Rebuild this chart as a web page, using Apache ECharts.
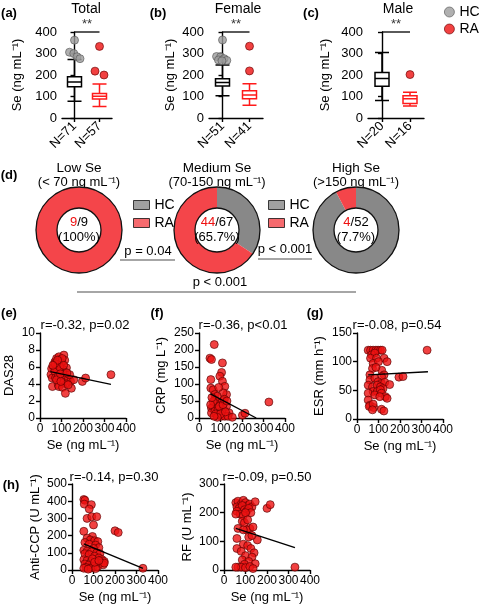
<!DOCTYPE html>
<html>
<head>
<meta charset="utf-8">
<script src="https://cdn.jsdelivr.net/npm/echarts@6/dist/echarts.min.js"></script>
<style>
  html, body { margin: 0; padding: 0; background: #fff; }
  #chart { width: 480px; height: 608px; }
</style>
</head>
<body>
<div id="chart"></div>
<script>
const FONT = 'Liberation Sans, Arial, sans-serif';
const RED = '#ee1111';
const PIE_RED = '#f4454a';
const GRAY = '#888888';

// (a)-(c) box plots: [min, Q1, median, Q3, max]
const totalCats = ['N=71', 'N=57'];
const femaleCats = ['N=51', 'N=41'];
const maleCats = ['N=20', 'N=16'];
const totalHC = [78, 145, 167, 192, 272];
const totalRA = [54, 88, 101, 114, 158];
const femaleHC = [103, 149, 165, 182, 246];
const femaleRA = [59, 89, 107, 127, 159];
const maleHC = [81, 148, 184, 212, 305];
const maleRA = [56, 67, 89, 104, 120];
// outliers: [position within category (0 = HC, 1 = RA), value]
const totalHCOut = [[0, 362], [-0.2, 306], [-0.03, 300], [0.1, 285], [0.22, 276]];
const totalRAOut = [[1, 333], [0.82, 218], [1.18, 200]];
const femaleHCOut = [[0, 363], [-0.22, 286], [-0.07, 285], [0.06, 276], [0.16, 268], [-0.15, 270], [-0.02, 266]];
const femaleRAOut = [[1, 334], [1, 219]];
const maleHCOut = [];
const maleRAOut = [[1, 202]];

// (d) donuts: [HC, RA]
const donutNames = ['Low Se', 'Medium Se', 'High Se'];
const donutRanges = ['(< 70 ng mL⁻¹)', '(70-150 ng mL⁻¹)', '(>150 ng mL⁻¹)'];
const lowCounts = [0, 9];
const mediumCounts = [23, 44];
const highCounts = [48, 4];
const donutPct = ['100%', '65.7%', '7.7%'];

// (e)-(h) correlations: [Se, value]
const dasPts = [[62,6.0],[54,5.8],[51,5.1],[57,4.7],[58,3.7],[69,6.6],[77,7.0],[88,7.2],[92,6.8],[111,7.4],[115,6.8],[100,6.5],[85,6.3],[77,5.8],[123,5.9],[108,5.7],[92,5.5],[69,5.5],[72,4.7],[85,4.9],[100,4.7],[115,5.1],[123,4.7],[131,4.5],[142,4.3],[157,4.5],[85,3.9],[108,4.1],[123,4.0],[146,3.5],[88,3.7],[105,3.6],[118,2.9],[197,4.3],[212,4.7],[330,5.1],[77,4.5],[97,4.3],[131,3.9],[138,5.1],[92,6.0],[69,6.4],[103,7.0],[82,6.8],[60,6.2],[110,6.2],[95,5.2],[125,5.3]];
const crpPts = [[71,216],[51,176],[58,172],[109,162],[105,134],[97,123],[55,113],[55,88],[66,83],[74,69],[109,108],[120,93],[128,69],[112,74],[109,49],[97,44],[82,39],[66,34],[58,29],[58,15],[74,20],[89,25],[105,20],[115,25],[128,34],[140,15],[89,10],[105,5],[120,5],[135,5],[155,2],[202,8],[214,14],[325,47],[74,54],[85,64],[94,34],[112,39],[66,49],[78,12],[100,12],[123,18],[54,39],[85,2],[60,60],[92,90],[118,55],[70,5],[130,50]];
const esrPts = [[52,120],[63,120],[75,120],[88,120],[98,120],[109,120],[117,120],[326,120],[68,112],[83,115],[63,106],[91,106],[126,106],[140,100],[75,97],[72,88],[115,85],[126,77],[114,74],[60,77],[195,73],[214,74],[60,68],[83,71],[98,65],[114,62],[129,64],[152,60],[52,59],[72,56],[94,59],[109,56],[121,53],[75,48],[94,48],[109,51],[52,45],[83,42],[114,45],[132,39],[140,36],[52,33],[106,39],[60,24],[57,22],[78,20],[114,17],[125,14],[75,26],[72,16],[100,100],[88,90]];
const ccpPts = [[55,410],[60,405],[57,383],[90,380],[80,355],[70,300],[92,310],[115,310],[100,262],[55,225],[200,228],[215,218],[95,195],[70,185],[85,175],[105,170],[120,165],[60,160],[80,150],[110,145],[125,130],[100,125],[55,115],[70,110],[90,105],[115,100],[130,95],[60,95],[80,90],[105,80],[125,70],[140,60],[150,50],[55,60],[70,55],[90,50],[115,45],[135,40],[60,35],[80,30],[100,25],[120,20],[145,30],[65,15],[85,10],[110,8],[55,10],[75,5],[330,10],[95,65],[105,45],[150,40],[125,55]];
const rfPts = [[55,235],[65,240],[80,230],[90,243],[100,235],[110,225],[120,230],[130,220],[145,238],[60,220],[70,215],[85,225],[95,210],[105,205],[115,215],[125,200],[60,205],[75,195],[90,190],[100,200],[55,195],[200,215],[215,228],[85,170],[95,165],[120,145],[65,145],[105,140],[135,150],[155,105],[115,115],[60,110],[90,90],[110,85],[60,75],[125,75],[80,65],[140,60],[100,50],[130,45],[85,35],[115,30],[145,22],[95,20],[65,10],[80,10],[100,8],[120,12],[55,10],[135,5],[330,10],[90,140],[110,175],[130,120]];
// regression lines: [start, end]
const dasFit = [[48, 5.45], [330, 3.95]];
const crpFit = [[53, 71], [266, 0]];
const esrFit = [[52, 77], [330, 82.5]];
const ccpFit = [[55, 152], [330, 10]];
const rfFit = [[55, 145], [330, 78]];
const corrTitles = ['r=-0.32, p=0.02', 'r=-0.36, p<0.01', 'r=-0.08, p=0.54', 'r=-0.14, p=0.30', 'r=-0.09, p=0.50'];

function axisStyle(fontSize) {
  return {
    axisLine: { show: true, lineStyle: { color: '#000', width: 1.4 } },
    axisTick: { show: true, length: 4, lineStyle: { color: '#000', width: 1.4 } },
    axisLabel: { color: '#000', fontSize: fontSize, fontFamily: FONT, margin: 5 },
    splitLine: { show: false },
    nameTextStyle: { color: '#000', fontSize: 13, fontFamily: FONT }
  };
}

function txt(x, y, s, size, extra) {
  return Object.assign({
    type: 'text', x: x, y: y, silent: true,
    style: {
      text: s, fontSize: size, fontFamily: FONT, fill: '#000',
      textAlign: 'center', textVerticalAlign: 'middle',
      align: 'center', verticalAlign: 'middle'
    }
  }, extra || {});
}

function hline(x1, x2, y, color) {
  return { type: 'line', silent: true, shape: { x1: x1, y1: y, x2: x2, y2: y },
    style: { stroke: color, lineWidth: 1.5 } };
}

const grid = [];
const xAxis = [];
const yAxis = [];
const series = [];

// box plot panels
const boxPanels = [
  { cats: totalCats, hc: totalHC, ra: totalRA, hcOut: totalHCOut, raOut: totalRAOut, box: { left: 62, top: 32, width: 50, height: 86 }, gap: 38 },
  { cats: femaleCats, hc: femaleHC, ra: femaleRA, hcOut: femaleHCOut, raOut: femaleRAOut, box: { left: 209, top: 32, width: 54, height: 86 }, gap: 32 },
  { cats: maleCats, hc: maleHC, ra: maleRA, hcOut: maleHCOut, raOut: maleRAOut, box: { left: 368, top: 32, width: 56, height: 86 }, gap: 36 }
];

boxPanels.forEach((p, i) => {
  grid.push(p.box);
  const st = axisStyle(13);
  xAxis.push(Object.assign({}, st, {
    type: 'category', gridIndex: i, data: p.cats,
    axisTick: { show: true, alignWithLabel: true, length: 4, lineStyle: { color: '#000', width: 1.4 } },
    axisLabel: Object.assign({}, st.axisLabel, { rotate: 45, fontSize: 13, margin: 6 })
  }));
  xAxis.push({ type: 'value', gridIndex: i, min: -0.5, max: 1.5, show: false });
  yAxis.push(Object.assign({}, st, {
    type: 'value', gridIndex: i, min: 0, max: 400, interval: 100,
    name: 'Se (ng mL⁻¹)', nameLocation: 'middle', nameGap: p.gap
  }));
  series.push({
    type: 'boxplot', xAxisIndex: 2 * i, yAxisIndex: i, boxWidth: [14, 14],
    itemStyle: { borderWidth: 1.5 },
    data: [
      { value: p.hc, itemStyle: { color: '#fff', borderColor: '#000' } },
      { value: p.ra, itemStyle: { color: '#fff', borderColor: '#ff1a1a' } }
    ]
  });
  series.push({
    name: 'HC', type: 'scatter', xAxisIndex: 2 * i + 1, yAxisIndex: i, symbolSize: 8,
    itemStyle: { color: '#9c9c9c', borderColor: '#555', borderWidth: 0.8 }, data: p.hcOut
  });
  series.push({
    name: 'RA', type: 'scatter', xAxisIndex: 2 * i + 1, yAxisIndex: i, symbolSize: 8,
    itemStyle: { color: RED, borderColor: '#600', borderWidth: 0.8 }, data: p.raOut
  });
  // significance bar
  series.push({
    type: 'line', xAxisIndex: 2 * i + 1, yAxisIndex: i, symbol: 'none', clip: false,
    lineStyle: { color: '#000', width: 1.3 }, data: [[0, 400], [1, 400]]
  });
  series.push({
    type: 'scatter', xAxisIndex: 2 * i + 1, yAxisIndex: i, symbolSize: 0, clip: false,
    label: { show: true, position: 'top', distance: 1, formatter: '**', color: '#000', fontSize: 13, fontFamily: FONT },
    data: [[0.5, 400]]
  });
});

// donuts
const donutCenters = [[79, 230], [217, 230], [356, 230]];
const donutCounts = [lowCounts, mediumCounts, highCounts];
donutCounts.forEach((c, i) => {
  series.push({
    type: 'pie', name: donutNames[i], center: donutCenters[i], radius: [22, 43],
    silent: true, label: { show: false }, labelLine: { show: false },
    data: [
      { name: 'HC', value: c[0], itemStyle: { color: GRAY } },
      { name: 'RA', value: c[1], itemStyle: { color: PIE_RED } }
    ]
  });
  series.push({
    type: 'pie', center: donutCenters[i], radius: [22, 43], silent: true, z: 3,
    itemStyle: { color: 'rgba(0,0,0,0)', borderColor: '#111', borderWidth: 1.3 },
    label: {
      show: true, position: 'center', color: '#000', fontSize: 13, fontFamily: FONT, lineHeight: 15,
      formatter: '{r|' + c[1] + '}/' + (c[0] + c[1]) + '\n(' + donutPct[i] + ')',
      rich: { r: { color: RED, fontSize: 13, fontFamily: FONT } }
    },
    labelLine: { show: false },
    data: [{ name: 'ring', value: 1 }]
  });
});

// correlation panels
const scatterPanels = [
  { pts: dasPts, fit: dasFit, max: 10, step: 2, name: 'DAS28', box: { left: 40, top: 333, width: 86, height: 85 }, gap: 24 },
  { pts: crpPts, fit: crpFit, max: 250, step: 50, name: 'CRP (mg L⁻¹)', box: { left: 199, top: 333, width: 86, height: 85 }, gap: 31 },
  { pts: esrPts, fit: esrFit, max: 150, step: 50, name: 'ESR (mm h⁻¹)', box: { left: 357, top: 333, width: 86, height: 86 }, gap: 31 },
  { pts: ccpPts, fit: ccpFit, max: 500, step: 100, name: 'Anti-CCP (U mL⁻¹)', box: { left: 72, top: 484, width: 86, height: 86 }, gap: 30 },
  { pts: rfPts, fit: rfFit, max: 300, step: 100, name: 'RF (U mL⁻¹)', box: { left: 224, top: 484, width: 86, height: 86 }, gap: 30 }
];

scatterPanels.forEach((p, k) => {
  const gi = 3 + k;
  grid.push(p.box);
  const st = axisStyle(12);
  xAxis.push(Object.assign({}, st, {
    type: 'value', gridIndex: gi, min: 0, max: 400, interval: 100,
    name: 'Se (ng mL⁻¹)', nameLocation: 'middle', nameGap: 21
  }));
  yAxis.push(Object.assign({}, st, {
    type: 'value', gridIndex: gi, min: 0, max: p.max, interval: p.step,
    name: p.name, nameLocation: 'middle', nameGap: p.gap
  }));
  series.push({
    type: 'scatter', xAxisIndex: 6 + k, yAxisIndex: gi, symbolSize: 8,
    itemStyle: { color: RED, borderColor: '#500', borderWidth: 0.8 }, data: p.pts
  });
  series.push({
    type: 'line', xAxisIndex: 6 + k, yAxisIndex: gi, symbol: 'none', z: 5,
    lineStyle: { color: '#000', width: 1.4 }, data: p.fit
  });
});

const legendFont = { fontSize: 14, fontFamily: FONT, color: '#000' };
const legend = [
  {
    left: 439, top: 0, orient: 'vertical', itemGap: 3, itemWidth: 10, itemHeight: 10,
    selectedMode: false, textStyle: legendFont,
    data: [
      { name: 'HC', icon: 'circle', itemStyle: { color: '#9c9c9c', borderColor: '#555', borderWidth: 0.8 } },
      { name: 'RA', icon: 'circle', itemStyle: { color: RED, borderColor: '#600', borderWidth: 0.8 } }
    ]
  }
];
[128, 263].forEach(x => {
  legend.push({
    left: x, top: 193, orient: 'vertical', itemGap: 4, itemWidth: 16, itemHeight: 9,
    selectedMode: false, textStyle: legendFont,
    data: [
      { name: 'HC', icon: 'rect', itemStyle: { color: GRAY, borderColor: '#111', borderWidth: 1 } },
      { name: 'RA', icon: 'rect', itemStyle: { color: PIE_RED, borderColor: '#111', borderWidth: 1 } }
    ]
  });
});

const graphic = [
  txt(9, 13, '(a)', 13, null), txt(158, 13, '(b)', 13, null), txt(311, 13, '(c)', 13, null),
  txt(9, 175, '(d)', 13, null), txt(9, 313, '(e)', 13, null), txt(157, 313, '(f)', 13, null),
  txt(315, 313, '(g)', 13, null), txt(11, 485, '(h)', 13, null),
  txt(86, 9, 'Total', 14, null), txt(238, 9, 'Female', 14, null), txt(398, 9, 'Male', 14, null),
  txt(85, 325, corrTitles[0], 13, null), txt(243, 325, corrTitles[1], 13, null),
  txt(397, 325, corrTitles[2], 13, null), txt(114, 477, corrTitles[3], 13, null),
  txt(267, 477, corrTitles[4], 13, null),
  txt(148, 251, 'p = 0.04', 13, null), hline(120, 175, 260, '#888'),
  txt(285, 249, 'p < 0.001', 13, null), hline(258, 312, 259, '#888'),
  txt(220, 282, 'p < 0.001', 13, null), hline(77, 356, 292, '#888')
];
graphic.forEach(g => { if (g.type === 'text' && /^\([a-h]\)$/.test(g.style.text)) g.style.fontWeight = 'bold'; });
donutCenters.forEach((c, i) => {
  graphic.push(txt(c[0], 168, donutNames[i], 13.5, null));
  graphic.push(txt(c[0], 182, donutRanges[i], 13, null));
});

const chart = echarts.init(document.getElementById('chart'));
chart.setOption({
  backgroundColor: '#fff',
  animation: false,
  textStyle: { fontFamily: FONT },
  grid: grid,
  xAxis: xAxis,
  yAxis: yAxis,
  legend: legend,
  series: series,
  graphic: graphic
});
</script>
</body>
</html>
